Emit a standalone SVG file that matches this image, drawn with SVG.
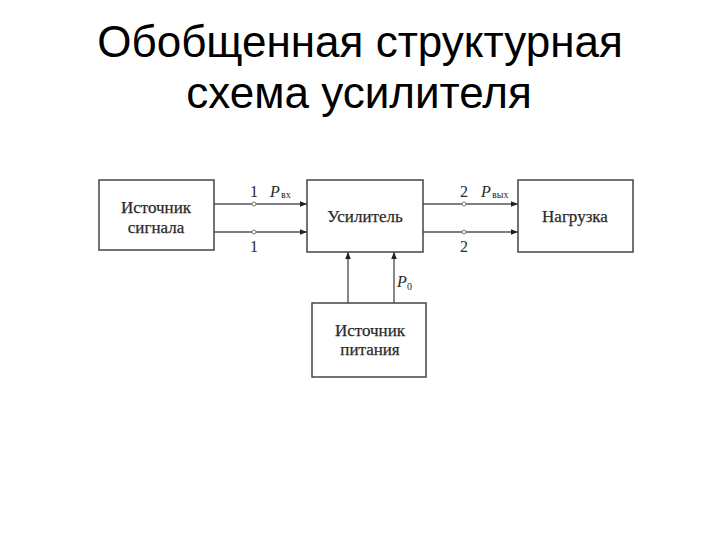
<svg xmlns="http://www.w3.org/2000/svg" width="720" height="540" viewBox="0 0 720 540">
<style>
.title{font-family:"Liberation Sans",Arial,sans-serif;font-size:44px;fill:#000;text-anchor:middle}
.box{fill:#fff;stroke:#444;stroke-width:1.5}
.lbl{font-family:"Liberation Serif","Times New Roman",serif;font-size:17px;fill:#2a2a2a;stroke:#2a2a2a;stroke-width:0.25;text-anchor:middle}
.num{font-family:"Liberation Serif","Times New Roman",serif;font-size:16px;fill:#2a2a2a;text-anchor:middle}
.p{font-family:"Liberation Serif","Times New Roman",serif;font-size:16px;font-style:italic;fill:#2a2a2a}
.sub{font-family:"Liberation Serif","Times New Roman",serif;font-size:10px;fill:#2a2a2a}
.wire{stroke:#555;stroke-width:1.4;fill:none}
.term{fill:#fff;stroke:#777;stroke-width:1}
</style>
<defs>
<marker id="ah" viewBox="0 0 10 10" refX="10" refY="5" markerWidth="8" markerHeight="7" orient="auto" markerUnits="userSpaceOnUse">
<path d="M0,1 L10,5 L0,9 z" fill="#222"/>
</marker>
</defs>
<rect width="720" height="540" fill="#fff"/>
<text class="title" x="360" y="57">Обобщенная структурная</text>
<text class="title" x="359" y="108">схема усилителя</text>

<g id="connectors">
<line class="wire" x1="214" y1="204" x2="307" y2="204" marker-end="url(#ah)"/>
<line class="wire" x1="214" y1="232" x2="307" y2="232" marker-end="url(#ah)"/>
<line class="wire" x1="423" y1="204" x2="518" y2="204" marker-end="url(#ah)"/>
<line class="wire" x1="423" y1="232" x2="518" y2="232" marker-end="url(#ah)"/>
<line class="wire" x1="348" y1="303" x2="348" y2="252" marker-end="url(#ah)"/>
<line class="wire" x1="394" y1="303" x2="394" y2="252" marker-end="url(#ah)"/>
<circle class="term" cx="254" cy="204" r="2"/>
<circle class="term" cx="254" cy="232" r="2"/>
<circle class="term" cx="464" cy="204" r="2"/>
<circle class="term" cx="464" cy="232" r="2"/>
<text class="num" x="254" y="197">1</text>
<text class="num" x="254" y="252">1</text>
<text class="num" x="464" y="197">2</text>
<text class="num" x="464" y="252">2</text>
<text class="p" x="270" y="197">P</text><text class="sub" x="281" y="198">вх</text>
<text class="p" x="481" y="197">P</text><text class="sub" x="492" y="198">вых</text>
<text class="p" x="397" y="287">P</text><text class="sub" x="407" y="290">0</text>
</g>

<g id="source">
<rect class="box" x="99" y="180" width="115" height="70"/>
<text class="lbl" x="156" y="213">Источник</text>
<text class="lbl" x="156" y="233">сигнала</text>
</g>
<g id="amplifier">
<rect class="box" x="307" y="180" width="116" height="72"/>
<text class="lbl" x="365" y="222">Усилитель</text>
</g>
<g id="load">
<rect class="box" x="518" y="180" width="115" height="72"/>
<text class="lbl" x="575" y="222">Нагрузка</text>
</g>
<g id="power">
<rect class="box" x="312" y="303" width="114" height="74"/>
<text class="lbl" x="370" y="336">Источник</text>
<text class="lbl" x="370" y="355">питания</text>
</g>
</svg>
